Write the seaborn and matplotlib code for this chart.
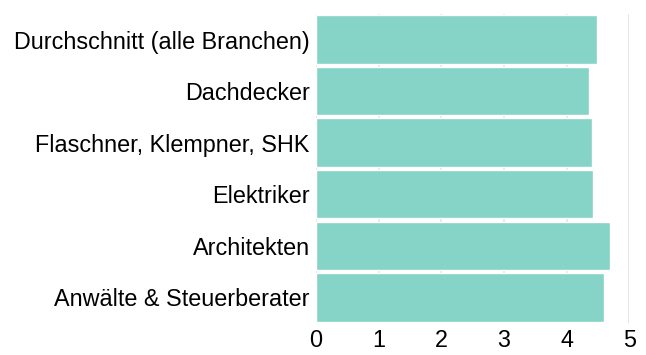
import matplotlib
matplotlib.use("Agg")
import matplotlib.pyplot as plt
import seaborn as sns
import pandas as pd

# Werte
branchen = [
    "Durchschnitt (alle Branchen)",
    "Dachdecker",
    "Flaschner, Klempner, SHK",
    "Elektriker",
    "Architekten",
    "Anwälte & Steuerberater",
]
werte = [4.49, 4.36, 4.41, 4.42, 4.69, 4.59]
x_ticks = [0, 1, 2, 3, 4, 5]

df = pd.DataFrame({"branche": branchen, "wert": werte})

sns.set_style("white")
plt.rcParams["font.family"] = ["Liberation Sans", "DejaVu Sans"]

fig = plt.figure(figsize=(6.46, 3.55), dpi=100)
ax = fig.add_axes([0.489, 0.090, 0.485, 0.871])

sns.barplot(data=df, x="wert", y="branche", color="#86d3c7", saturation=1,
            width=0.94, ax=ax, zorder=2)

ax.set_xlim(0, 5)
ax.set_xticks(x_ticks)
ax.grid(axis="x", color="#e0e0e0", linewidth=1.2, zorder=0)
ax.set_axisbelow(True)
ax.set_xlabel("")
ax.set_ylabel("")
sns.despine(ax=ax, left=True, bottom=True)
ax.tick_params(axis="both", length=0, labelsize=16.8, colors="#000000")
ax.tick_params(axis="y", pad=4.5)
ax.tick_params(axis="x", pad=4)

fig.savefig("out.png", dpi=100)
